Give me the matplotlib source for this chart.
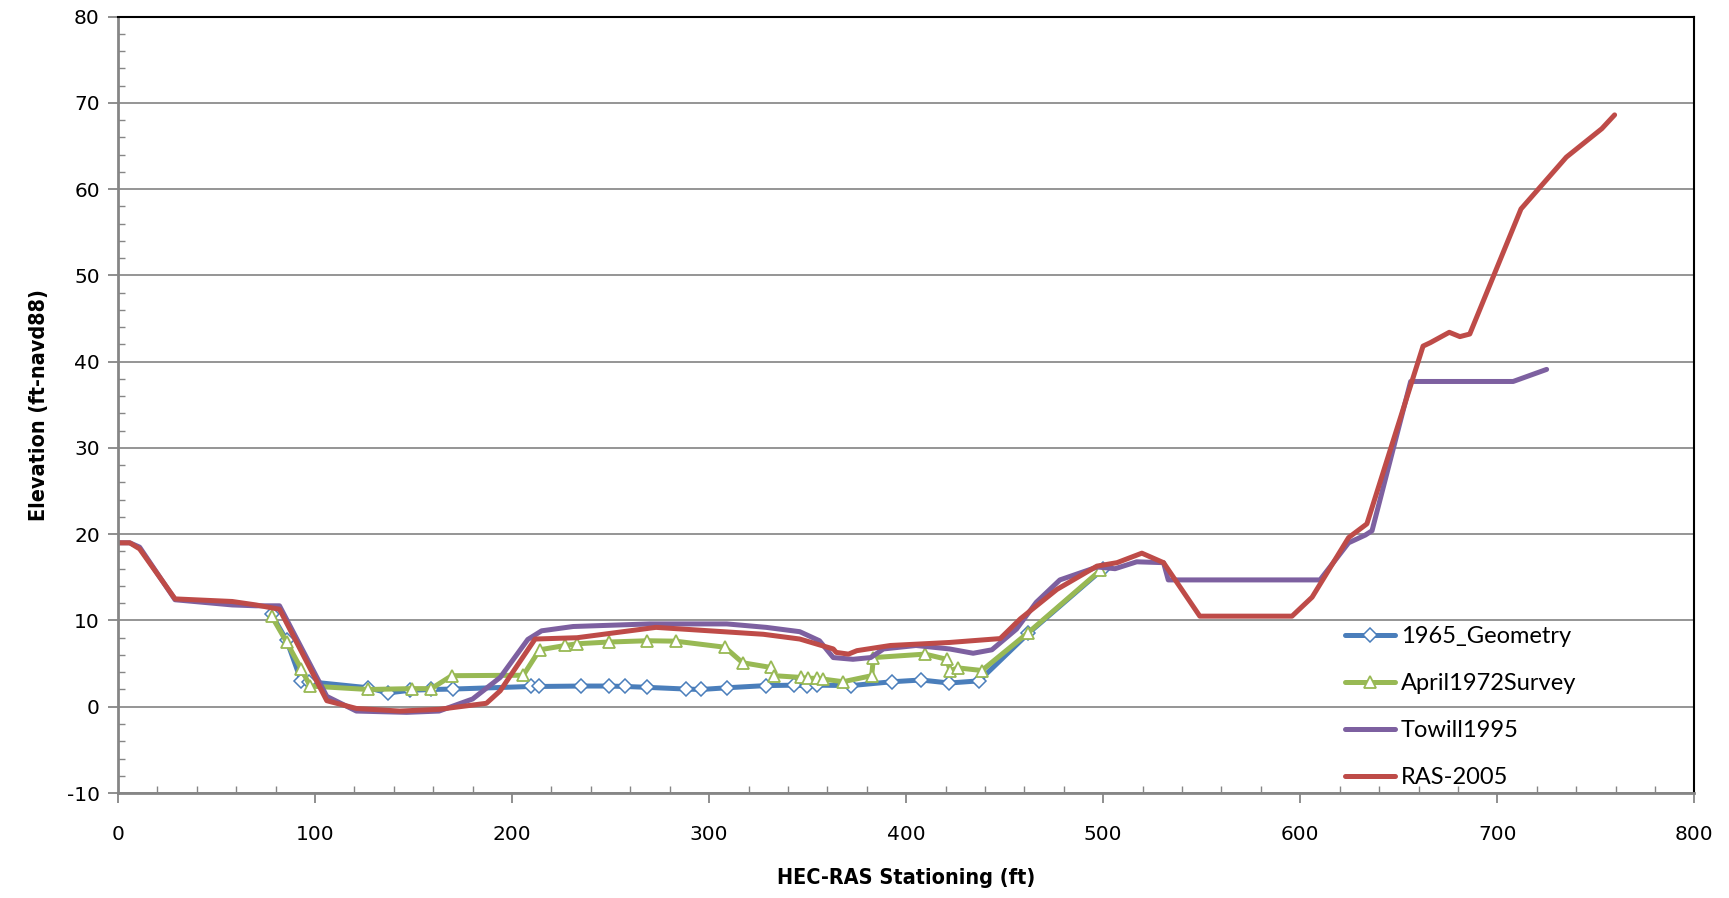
import numpy as np
import matplotlib
matplotlib.use("Agg")
from matplotlib import pyplot as plt
from matplotlib.ticker import MultipleLocator

plt.rcParams['axes.unicode_minus'] = False

# station (ft) / elevation (ft-navd88) per survey
geom1965_x = [78, 85.6, 93, 97, 127, 137, 148, 159, 170, 209.5, 213.8, 235, 249, 257.4,
              268.5, 288.3, 296, 309, 328.7, 343, 349.5, 355, 372, 393, 407.6, 421.8,
              437, 462, 500]
geom1965_y = [10.7, 7.7, 3.0, 2.9, 2.2, 1.6, 1.9, 2.0, 2.05, 2.35, 2.35, 2.4, 2.4, 2.35,
              2.25, 2.05, 2.0, 2.2, 2.45, 2.5, 2.45, 2.5, 2.45, 2.9, 3.1, 2.75,
              3.0, 8.5, 16.0]

survey1972_x = [78, 85.6, 93, 97.5, 127, 149, 159, 169.4, 205.7, 214, 227, 233, 249,
                268.7, 283, 308, 317, 331.5, 333, 346.5, 350, 354.6, 358, 368, 382.5,
                383.4, 409.6, 420.6, 422.3, 426.4, 438.4, 462, 498.5]
survey1972_y = [10.5, 7.5, 4.4, 2.4, 2.0, 2.1, 2.1, 3.6, 3.65, 6.6, 7.1, 7.3, 7.5,
                7.65, 7.6, 6.9, 5.1, 4.55, 3.6, 3.4, 3.3, 3.3, 3.2, 2.9, 3.6,
                5.7, 6.1, 5.5, 4.2, 4.5, 4.2, 8.6, 15.8]

towill1995_x = [0, 6, 11, 29, 58, 70, 82, 106, 121, 146.5, 163, 180, 194, 208, 215, 231,
                270, 309, 329, 346, 356, 363, 373, 382, 388.5, 405, 422, 434, 443.5,
                456, 466, 478, 497, 506, 517, 530.6, 533, 610, 624.5, 633, 636.4, 656,
                708, 725]
towill1995_y = [19, 19, 18.5, 12.4, 11.8, 11.7, 11.7, 1.2, -0.5, -0.65, -0.5, 0.9, 3.4,
                7.8, 8.8, 9.3, 9.6, 9.6, 9.2, 8.7, 7.65, 5.7, 5.5, 5.7, 6.7, 7.1, 6.7,
                6.2, 6.6, 9.0, 12.1, 14.7, 16.2, 16.0, 16.8, 16.7, 14.7, 14.7, 19.0,
                19.9, 20.4, 37.7, 37.7, 39.1]

ras2005_x = [0, 6, 11, 29, 58, 70, 82, 106, 121, 143, 163, 187, 194, 211.7, 233, 273,
             327.5, 346, 363, 364.5, 370.7, 375, 392, 422, 447.7, 458, 476.5, 496.8,
             507, 519.6, 530.6, 549, 595.8, 606, 624.5, 633.8, 662.3, 666, 675.6, 681,
             686, 712, 735, 753, 759.5]
ras2005_y = [19, 19, 18.3, 12.5, 12.2, 11.8, 11.3, 0.7, -0.2, -0.5, -0.3, 0.4, 1.85,
             7.85, 8.0, 9.2, 8.4, 7.85, 6.7, 6.3, 6.1, 6.5, 7.1, 7.45, 7.9, 10.2, 13.6,
             16.3, 16.7, 17.8, 16.7, 10.5, 10.5, 12.7, 19.6, 21.2, 41.8, 42.2, 43.4,
             42.9, 43.2, 57.7, 63.7, 67.0, 68.6]

fig = plt.figure(figsize=(17.29, 8.98), dpi=100)
ax = fig.add_axes([0.0682, 0.1169, 0.9118, 0.8647])

lw = 3.6
common = dict(lw=lw, solid_capstyle='round', solid_joinstyle='round')
ax.plot(geom1965_x, geom1965_y, color='#4A7EBB', marker='D', ms=7, mfc='white',
        mec='#4A7EBB', mew=1.1, label='1965_Geometry', **common)
ax.plot(survey1972_x, survey1972_y, color='#98B954', marker='^', ms=8.5, mfc='white',
        mec='#98B954', mew=1.3, label='April1972Survey', **common)
ax.plot(towill1995_x, towill1995_y, color='#7D60A0', label='Towill1995', **common)
ax.plot(ras2005_x, ras2005_y, color='#BE4B48', label='RAS-2005', **common)

ax.set_xlim(0, 800)
ax.set_ylim(-10, 80)
ax.xaxis.set_major_locator(MultipleLocator(100))
ax.xaxis.set_minor_locator(MultipleLocator(20))
ax.yaxis.set_major_locator(MultipleLocator(10))
ax.yaxis.set_minor_locator(MultipleLocator(2))
ax.grid(axis='y', which='major', color='#8C8C8C', lw=1.3)
ax.set_axisbelow(True)

for s in ('left', 'bottom'):
    ax.spines[s].set_color('#868686')
    ax.spines[s].set_linewidth(2)
for s in ('top', 'right'):
    ax.spines[s].set_color('black')
    ax.spines[s].set_linewidth(1.5)

ax.tick_params(which='major', direction='out', length=7, width=1.3, color='#868686',
               labelsize=14.5, pad=6)
ax.tick_params(which='minor', direction='in', length=5, width=1.0, color='#868686')
ax.tick_params(axis='x', pad=16)

lab_font = dict(family=['DejaVu Sans'], stretch='condensed', weight='bold', size=15.5)
ax.set_xlabel('HEC-RAS Stationing (ft)', labelpad=17, **lab_font)
ax.set_ylabel('Elevation (ft-navd88)', labelpad=13, **lab_font)

ax.legend(loc='upper left', bbox_to_anchor=(0.7786, 0.215), frameon=False,
          borderpad=0, borderaxespad=0, labelspacing=1.1, handlelength=2.1,
          handletextpad=0.25, prop={'family': ['Lato', 'DejaVu Sans'], 'size': 17})

fig.savefig('out.png', dpi=100)
